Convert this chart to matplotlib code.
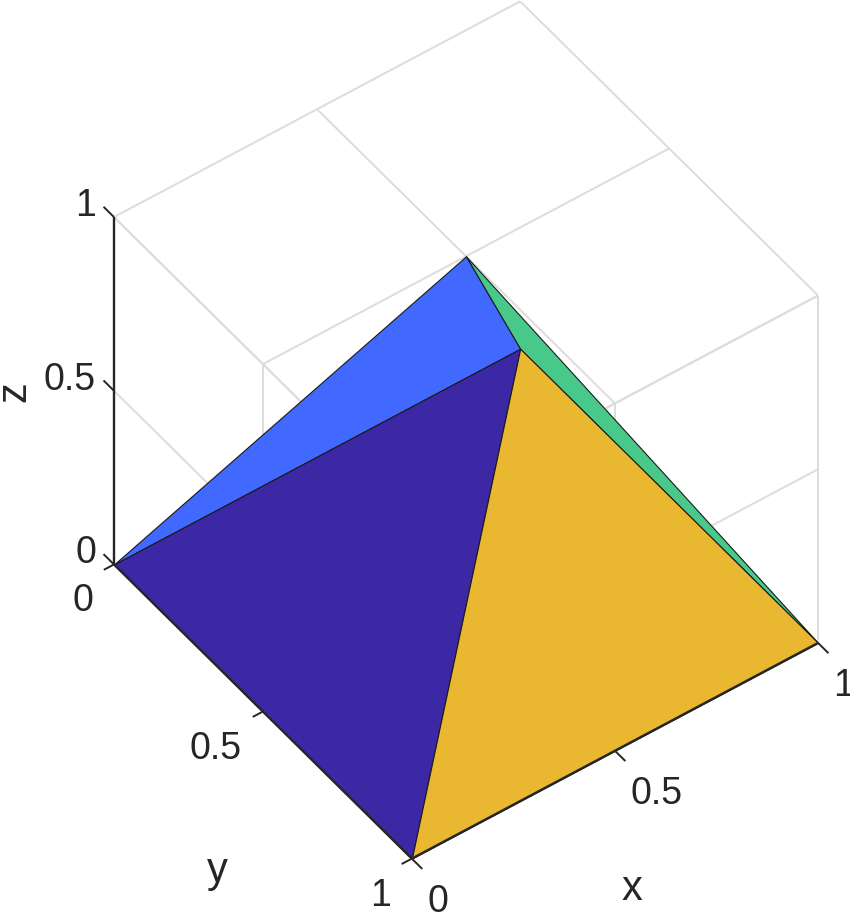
import numpy as np
import matplotlib
matplotlib.use('Agg')
import matplotlib.pyplot as plt
from mpl_toolkits.mplot3d import proj3d
from mpl_toolkits.mplot3d.art3d import Poly3DCollection

x_ticks = [0, 0.5, 1]
y_ticks = [0, 0.5, 1]
z_ticks = [0, 0.5, 1]
tick_labels = ['0', '0.5', '1']

# corners of the pyramid
p000 = (0, 0, 0)
p010 = (0, 1, 0)
p110 = (1, 1, 0)
p100 = (1, 0, 0)
apex = (0.5, 0.5, 1)

faces = [
  [p000, apex, p100],
  [apex, p100, p110],
  [p000, p010, p100],
  [p010, p110, p100],
]
face_colors = ['#4169ff', '#48c98a', '#3c27a5', '#eab830']

GRID = '#dcdcdc'
DARK = '#262626'
W, H = 850, 916
BOX = 1000

plt.rcParams['font.family'] = ['Liberation Sans', 'DejaVu Sans']

fig = plt.figure(figsize=(W / 100, H / 100), dpi=100)
ax = fig.add_axes(
  [(466 - 13.5 - BOX / 2) / W, (H - 429.5 - 14 - BOX / 2) / H, BOX / W, BOX / H],
  projection='3d',
  proj_type='ortho',
  computed_zorder=False,
)
ax.view_init(elev=-46.4, azim=-53.75)
ax.set_xlim(0, 1, view_margin=0)
ax.set_ylim(0, 1, view_margin=0)
ax.set_zlim(0, 1, view_margin=0)
ax.set_box_aspect((1, 1, 1), zoom=0.977 * 502 * 1.9 / (BOX * 1.1002))
ax.set_axis_off()
ax.patch.set_alpha(0)


def line3d(a, b, **kw):
  ax.plot([a[0], b[0]], [a[1], b[1]], [a[2], b[2]], solid_capstyle='butt', **kw)


# grid on the three back planes: z=1, x=0, y=1
grid_kw = dict(color=GRID, lw=1.4, zorder=1)
for v in x_ticks:
  line3d((v, 0, 1), (v, 1, 1), **grid_kw)
  line3d((v, 1, 0), (v, 1, 1), **grid_kw)
for v in y_ticks:
  line3d((0, v, 1), (1, v, 1), **grid_kw)
  line3d((0, v, 0), (0, v, 1), **grid_kw)
for v in z_ticks:
  line3d((0, 0, v), (0, 1, v), **grid_kw)
  line3d((0, 1, v), (1, 1, v), **grid_kw)

# faces
for face, col in zip(faces, face_colors):
  ax.add_collection3d(
    Poly3DCollection([face], facecolors=col, edgecolors='#1a1a1a', linewidths=0.8, zorder=2)
  )

# axis lines and ticks
axis_kw = dict(color=DARK, lw=1.7, zorder=3)
line3d((0, 1, 0), (1, 1, 0), **axis_kw)
line3d((0, 0, 0), (0, 1, 0), **axis_kw)
line3d((0, 0, 0), (0, 0, 1), **axis_kw)

tick_kw = dict(color=DARK, lw=1.4, zorder=3)
for v in x_ticks:
  line3d((v, 1, 0), (v, 1.035, 0), **tick_kw)
for v in y_ticks:
  line3d((0, v, 0), (-0.025, v, 0), **tick_kw)
for v in z_ticks:
  line3d((0, 0, v), (0, -0.035, v), **tick_kw)


def label(text, pt, dx, dy, **kw):
  px, py, _ = proj3d.proj_transform(pt[0], pt[1], pt[2], ax.get_proj())
  ax.annotate(text, xy=(px, py), xycoords='data', xytext=(dx * 0.72, dy * 0.72),
              textcoords='offset points', color=DARK, annotation_clip=False, **kw)


FS = 27
for v, t in zip(x_ticks, tick_labels):
  label(t, (v, 1, 0), 15.5, -53, fontsize=FS, ha='left', va='baseline')
for v, t in zip(y_ticks, tick_labels):
  label(t, (0, v, 0), -21, -47, fontsize=FS, ha='right', va='baseline')
for v, t in zip(z_ticks, tick_labels):
  label(t, (0, 0, v), -18, 1, fontsize=FS, ha='right', va='baseline')

label('x', (0.5, 1, 0), 17, -138, fontsize=30, ha='center', va='center')
label('y', (0, 0.5, 0), -46, -159, fontsize=30, ha='center', va='center')
label('z', (0, 0, 0.5), -100, -1, fontsize=30, ha='center', va='center', rotation=90)

fig.savefig('out.png', dpi=100)
